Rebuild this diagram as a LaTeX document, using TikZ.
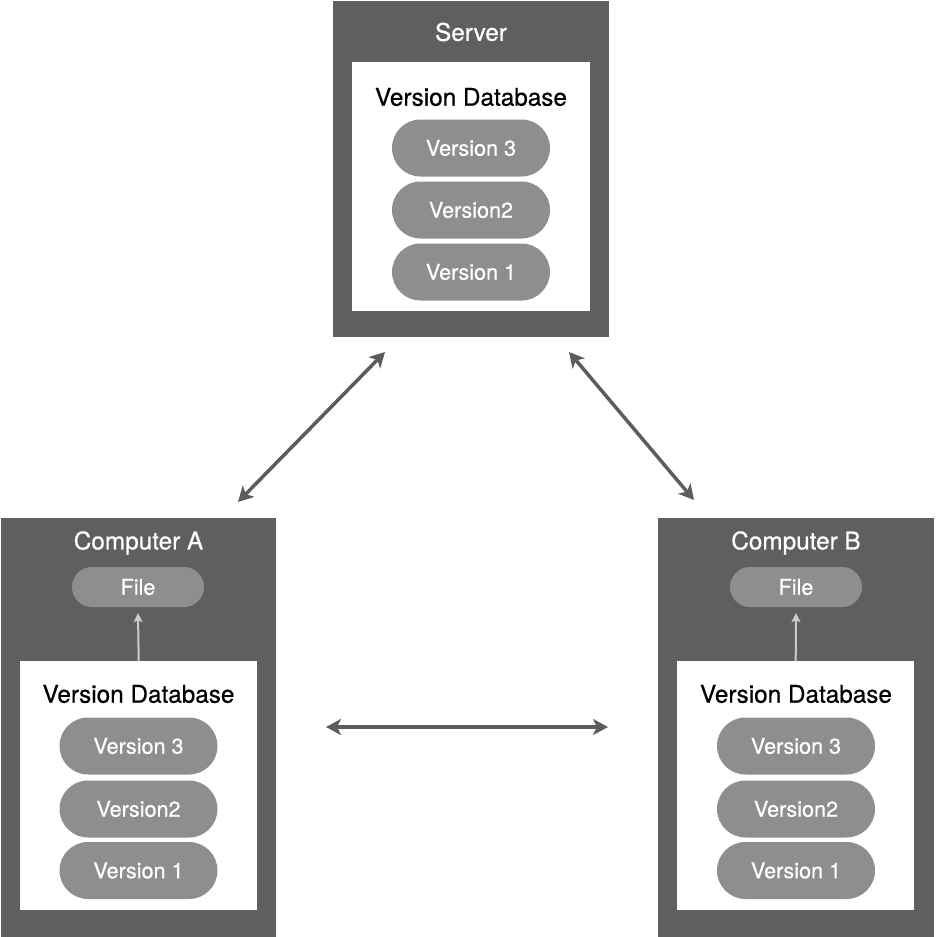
\documentclass[tikz,border=0pt]{standalone}
\usepackage{fontspec}
\setmainfont{TeX Gyre Heros}
\newfontfamily\labelfont[FakeBold=0.6]{TeX Gyre Heros}
\usetikzlibrary{arrows.meta,calc}
\definecolor{boxgray}{HTML}{5F5F5F}
\definecolor{pillgray}{HTML}{8E8E8E}
\definecolor{linkgray}{HTML}{5C5C5C}
\definecolor{checkoutgray}{HTML}{CCCCCC}

\begin{document}
\begin{tikzpicture}[x=1pt,y=-1pt,
  host/.style={fill=boxgray, draw=none, inner sep=0pt, anchor=north west},
  dbbox/.style={fill=white, draw=none, inner sep=0pt, anchor=north west,
                minimum width=237pt, minimum height=249pt},
  hosttitle/.style={text=white, font=\labelfont\fontsize{24.3}{28}\selectfont, inner sep=0pt},
  dbtitle/.style={text=black, font=\labelfont\fontsize{24.3}{28}\selectfont, inner sep=0pt},
  version/.style={fill=pillgray, text=white, draw=none, inner sep=0pt,
                  minimum width=158pt, minimum height=57pt, rounded corners=28.5pt,
                  font=\labelfont\fontsize{21.6}{25}\selectfont},
  workfile/.style={fill=pillgray, text=white, draw=none, inner sep=0pt,
                   minimum width=132pt, minimum height=40pt, rounded corners=20pt,
                   font=\labelfont\fontsize{21.6}{25}\selectfont},
  link/.style={draw=linkgray, line width=3.5pt,
               {Stealth[length=15pt,width=16pt,inset=4pt]}-{Stealth[length=15pt,width=16pt,inset=4pt]}},
  checkout/.style={draw=checkoutgray, line width=2pt,
                   -{Stealth[length=9pt,width=9pt,inset=2pt]}}
]
\useasboundingbox (0,0) rectangle (935,937);

% ---- central server ----
\node[host, minimum width=276pt, minimum height=336pt] (server) at (333,1) {};
\node[hosttitle] (servertitle) at (471,32) {Server};
\node[dbbox, minimum width=238pt] (serverdb) at (352,62) {};
\node[dbtitle] (serverdbtitle) at (471,97) {Version Database};
\node[version] (sv3) at (471,148) {Version 3};
\node[version] (sv2) at (471,210) {Version2};
\node[version] (sv1) at (471,272) {Version 1};

% ---- computer A ----
\node[host, minimum width=275pt, minimum height=419pt] (compA) at (1,518) {};
\node[hosttitle] (compAtitle) at (138.5,543) {Computer A};
\node[workfile] (fileA) at (138,587) {File};
\node[dbbox] (dbA) at (20,661) {};
\node[dbtitle] (dbAtitle) at (138.5,694) {Version Database};
\node[version] (av3) at (138.5,746) {Version 3};
\node[version] (av2) at (138.5,809) {Version2};
\node[version] (av1) at (138.5,870.5) {Version 1};

% ---- computer B ----
\node[host, minimum width=276pt, minimum height=419pt] (compB) at (658,518) {};
\node[hosttitle] (compBtitle) at (796,543) {Computer B};
\node[workfile] (fileB) at (796,587) {File};
\node[dbbox] (dbB) at (677,661) {};
\node[dbtitle] (dbBtitle) at (796,694) {Version Database};
\node[version] (bv3) at (796,746) {Version 3};
\node[version] (bv2) at (796,809) {Version2};
\node[version] (bv1) at (796,870.5) {Version 1};

% ---- checkout arrows inside each computer ----
\draw[checkout] (dbA.north) -- ($(fileA.south)+(0,6)$);
\draw[checkout] (dbB.north) -- ($(fileB.south)+(0,6)$);

% ---- synchronisation links ----
\coordinate (serverleft) at (385,352);
\coordinate (serverright) at (569,352);
\coordinate (compAtop) at (238,502);
\coordinate (compBtop) at (694,500);
\coordinate (compAside) at (326,727);
\coordinate (compBside) at (608,727);
\draw[link] (compAtop) -- (serverleft);
\draw[link] (serverright) -- (compBtop);
\draw[link] (compAside) -- (compBside);
\end{tikzpicture}
\end{document}
